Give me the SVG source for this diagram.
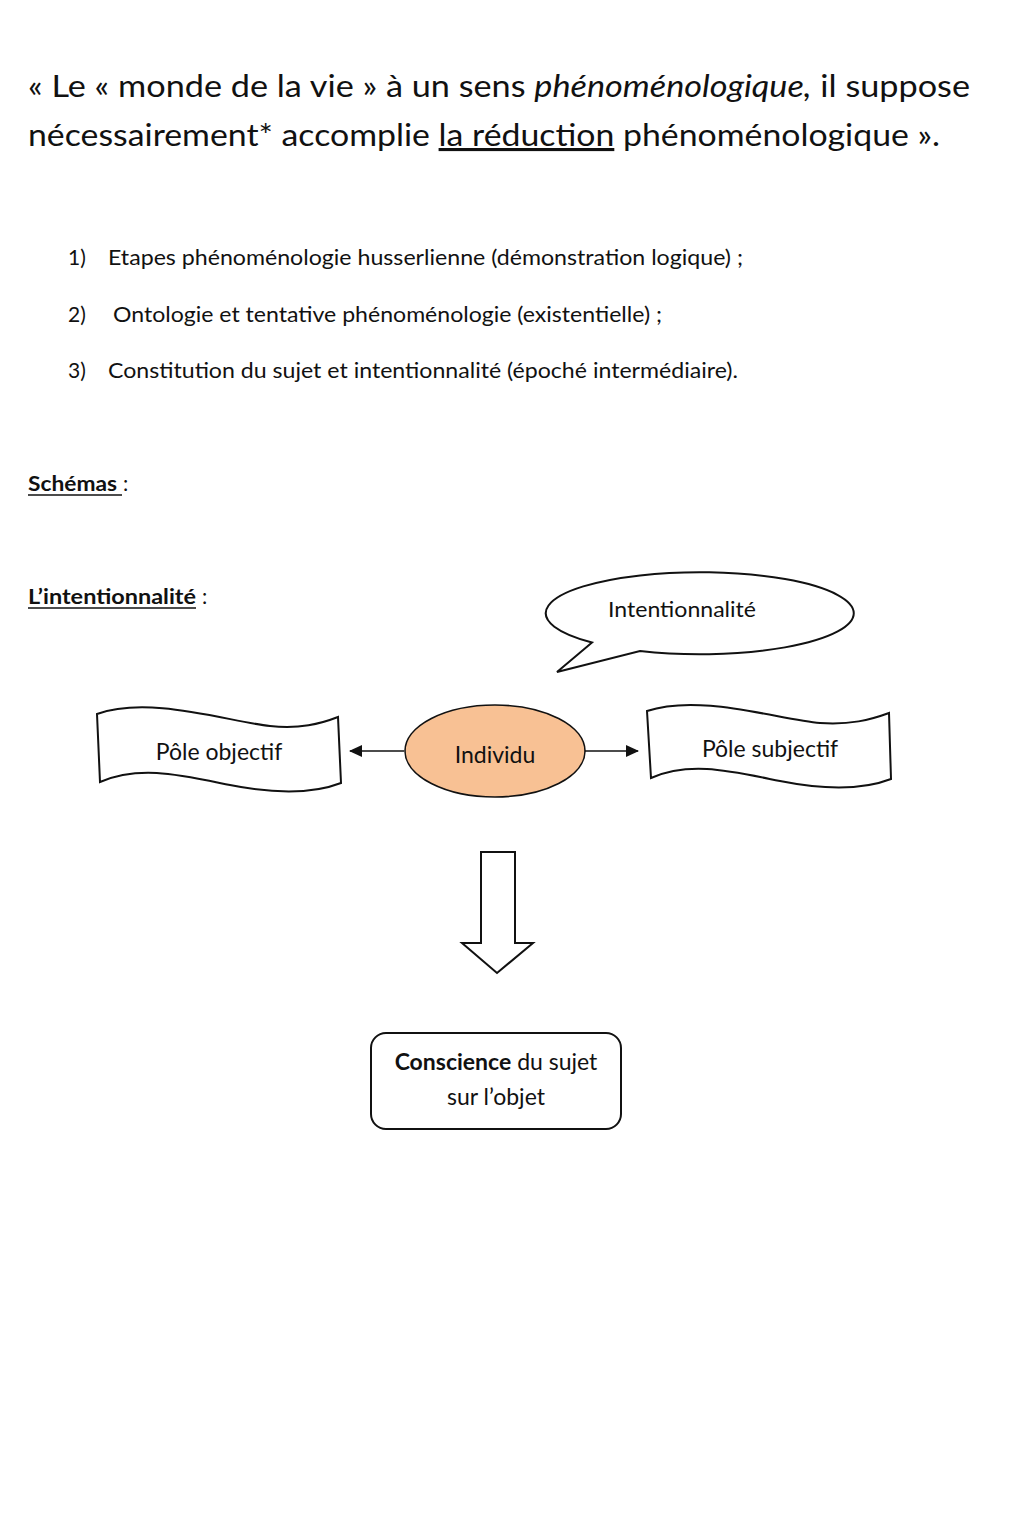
<svg xmlns="http://www.w3.org/2000/svg" width="1024" height="1526" viewBox="0 0 1024 1526">
<style>
text{font-family:Lato,"Open Sans","Liberation Sans",sans-serif;fill:#111}
.t{font-size:31px}
.l{font-size:21px}
.d{font-size:23px}
.s{fill:#fff;stroke:#111;stroke-width:2}
.c{stroke:#111;stroke-width:1.6;fill:none}
</style>
<defs>
<marker id="ah" markerWidth="13" markerHeight="12" refX="12" refY="6" orient="auto" markerUnits="userSpaceOnUse" viewBox="0 0 13 12">
<path d="M0,0 L13,6 L0,12 z" fill="#111"/>
</marker>
</defs>
<rect width="1024" height="1526" fill="#fff"/>
<text class="t" x="28" y="97" textLength="942" lengthAdjust="spacingAndGlyphs">« Le « monde de la vie » à un sens <tspan font-style="italic">phénoménologique,</tspan> il suppose</text>
<text class="t" x="28" y="146" textLength="912" lengthAdjust="spacingAndGlyphs">nécessairement* accomplie <tspan text-decoration="underline">la réduction</tspan> phénoménologique ».</text>
<text class="l" x="68" y="265">1)</text>
<text class="l" x="108" y="265" textLength="635" lengthAdjust="spacingAndGlyphs">Etapes phénoménologie husserlienne (démonstration logique) ;</text>
<text class="l" x="68" y="322">2)</text>
<text class="l" x="113" y="322" textLength="549" lengthAdjust="spacingAndGlyphs">Ontologie et tentative phénoménologie (existentielle) ;</text>
<text class="l" x="68" y="378">3)</text>
<text class="l" x="108" y="378" textLength="630" lengthAdjust="spacingAndGlyphs">Constitution du sujet et intentionnalité (époché intermédiaire).</text>
<text class="l" x="28" y="491" font-weight="bold" textLength="89" lengthAdjust="spacingAndGlyphs">Schémas</text>
<line x1="28" y1="495" x2="122" y2="495" stroke="#111" stroke-width="1.5"/>
<text class="l" x="123" y="491">:</text>
<text class="l" x="28" y="604" font-weight="bold" textLength="168" lengthAdjust="spacingAndGlyphs">L’intentionnalité</text>
<line x1="28" y1="608" x2="196" y2="608" stroke="#111" stroke-width="1.5"/>
<text class="l" x="202" y="604">:</text>

<g id="bubble">
<path class="s" d="M592,642.5 A154,41 0 1 1 640,651 L557,672 Z"/>
<text class="l" x="608" y="617" textLength="148" lengthAdjust="spacingAndGlyphs">Intentionnalité</text>
</g>

<g id="pole-objectif">
<path class="s" d="M97,714 C150,695 230,722 270,726 C300,729 320,724 338,717 L341,783 C310,795 270,793 230,785 C180,775 140,765 100,782 Z"/>
<text class="d" x="219" y="760" text-anchor="middle">Pôle objectif</text>
</g>

<g id="pole-subjectif">
<path class="s" d="M647,711 C700,693 780,720 820,723 C850,725 870,720 889,713 L891,779 C860,791 820,789 780,781 C730,771 690,761 651,778 Z"/>
<text class="d" x="770" y="757" text-anchor="middle">Pôle subjectif</text>
</g>

<g id="individu">
<ellipse cx="495" cy="751" rx="90" ry="46" fill="#F8C194" stroke="#111" stroke-width="1.6"/>
<text class="d" x="495" y="763" text-anchor="middle">Individu</text>
</g>

<g id="connectors">
<line class="c" x1="404" y1="751" x2="350" y2="751" marker-end="url(#ah)"/>
<line class="c" x1="585" y1="751" x2="638" y2="751" marker-end="url(#ah)"/>
<path class="s" d="M481,852 L515,852 L515,943 L533,943 L497,973 L462,943 L481,943 Z"/>
</g>

<g id="conscience">
<rect class="s" x="371" y="1033" width="250" height="96" rx="15"/>
<text class="d" x="496" y="1070" text-anchor="middle"><tspan font-weight="bold">Conscience</tspan> du sujet</text>
<text class="d" x="496" y="1105" text-anchor="middle">sur l’objet</text>
</g>
</svg>
